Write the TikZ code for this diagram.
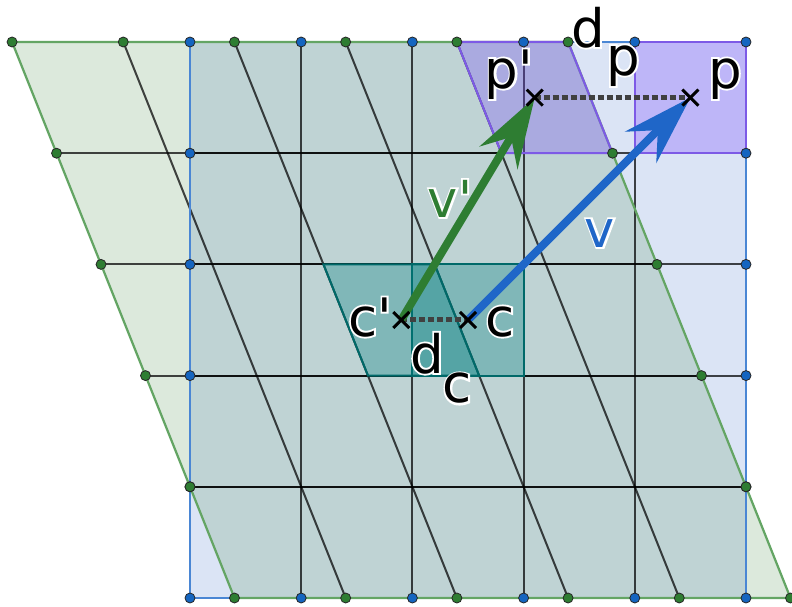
\documentclass[tikz,border=0pt]{standalone}
\usepackage{fontspec}
\newfontfamily\lblfont{DejaVu Sans}
\newfontfamily\halofont{DejaVu Sans}[FakeBold=7]
\usetikzlibrary{arrows.meta,calc}
\definecolor{sqfillc}{RGB}{20,80,190}
\definecolor{grfillc}{RGB}{80,145,80}
\definecolor{sqedge}{RGB}{74,134,212}
\definecolor{gredge}{RGB}{100,165,100}
\definecolor{tealc}{RGB}{0,128,128}
\definecolor{tealedge}{RGB}{0,105,105}
\definecolor{purpc}{RGB}{124,77,255}
\definecolor{purpedge}{RGB}{125,90,230}
\definecolor{vblue}{RGB}{31,102,200}
\definecolor{vgreen}{RGB}{46,125,50}
\definecolor{dotblue}{RGB}{21,101,192}
\definecolor{dotgreen}{RGB}{46,125,50}
\definecolor{dashc}{RGB}{64,64,64}
\newcommand\sq{\XeTeXglyph\XeTeXcharglyph"27\relax}
% #1 name, #2 position, #3 colour, #4 size (bp), #5 text
\newcommand\halolabel[5]{%
  \node[lbl, text=white, font={\halofont\fontsize{#4bp}{#4bp}\selectfont}]
      (#1h) at (#2) {#5};
  \node[lbl, text=#3, font={\lblfont\fontsize{#4bp}{#4bp}\selectfont}] (#1) at (#2) {#5};}
\begin{document}
\begin{tikzpicture}[x=111.2bp,y=111.2bp,
  sqfill/.style={fill=sqfillc, fill opacity=0.15},
  grfill/.style={fill=grfillc, fill opacity=0.2},
  gridline/.style={draw=black, draw opacity=0.72, line width=2bp},
  sqborder/.style={draw=sqedge, line width=2.2bp},
  grborder/.style={draw=gredge, line width=2.2bp},
  tealcell/.style={fill=tealc, fill opacity=0.33, draw=tealedge, line width=2bp},
  purpcell/.style={fill=purpc, fill opacity=0.3, draw=purpedge, line width=2bp},
  dotline/.style={draw=dashc, line width=5bp, dash pattern=on 6bp off 3bp},
  vec/.style={line width=8bp, -{Stealth[length=70bp, width=44bp, inset=24bp]}},
  crossline/.style={draw=black, line width=3bp},
  bdot/.style={fill=dotblue, draw=black!85, line width=0.8bp},
  gdot/.style={fill=dotgreen, draw=black!85, line width=0.8bp},
  lbl/.style={anchor=base, inner sep=0pt, outer sep=0pt}]
\useasboundingbox (-1.7086,-0.0809) rectangle (5.4137,5.3777);
\fill[white] (-1.7086,-0.0809) rectangle (5.4137,5.3777);

% fills
\fill[sqfill] (0,0) rectangle (5,5);
\fill[grfill] (0.4,0) -- (5.4,0) -- (3.4,5) -- (-1.6,5) -- cycle;

% interior grid lines
\foreach \i in {1,...,4}{
  \draw[gridline] (\i,0) -- (\i,5);
  \draw[gridline] (0,\i) -- (5,\i);
  \draw[gridline] ({\i+0.4},0) -- ({\i-1.6},5);
  \draw[gridline] ({0.4-0.4*\i},\i) -- ({5.4-0.4*\i},\i);
}

% borders
\draw[sqborder] (0,0) rectangle (5,5);
\draw[grborder] (0.4,0) -- (5.4,0) -- (3.4,5) -- (-1.6,5) -- cycle;

% highlighted cells
\filldraw[tealcell] (2,2) rectangle (3,3);
\filldraw[tealcell] (1.6,2) -- (2.6,2) -- (2.2,3) -- (1.2,3) -- cycle;
\filldraw[purpcell] (4,4) rectangle (5,5);
\filldraw[purpcell] (2.8,4) -- (3.8,4) -- (3.4,5) -- (2.4,5) -- cycle;

% points
\coordinate (p) at (4.5,4.5);
\coordinate (pp) at (3.1,4.5);
\coordinate (c) at (2.5,2.5);
\coordinate (cc) at (1.9,2.5);

% distances
\draw[dotline] (pp) -- (p);
\draw[dotline] (cc) -- (c);

% vectors
\draw[vec, vblue] (c) -- (p);
\draw[vec, vgreen] (cc) -- (pp);

% crosses
\foreach \pt in {p,pp,c,cc}{
  \draw[crossline] ([shift={(-8bp,-8bp)}]\pt) -- ([shift={(8bp,8bp)}]\pt);
  \draw[crossline] ([shift={(-8bp,8bp)}]\pt) -- ([shift={(8bp,-8bp)}]\pt);
}

% lattice dots
\foreach \i in {0,...,5}{
  \filldraw[bdot] (\i,0) circle (5bp);
  \filldraw[bdot] (\i,5) circle (5bp);
}
\foreach \j in {1,...,4}{
  \filldraw[bdot] (0,\j) circle (5bp);
  \filldraw[bdot] (5,\j) circle (5bp);
}
\foreach \i in {0,...,5}{
  \filldraw[gdot] ({\i+0.4},0) circle (5bp);
  \filldraw[gdot] ({\i-1.6},5) circle (5bp);
}
\foreach \j in {1,...,4}{
  \filldraw[gdot] ({0.4-0.4*\j},\j) circle (5bp);
  \filldraw[gdot] ({5.4-0.4*\j},\j) circle (5bp);
}

% labels
\halolabel{lpp}{2.869,4.586}{black}{53}{p\sq}
\halolabel{lp}{4.811,4.586}{black}{53}{p}
\halolabel{ldp}{3.579,4.955}{black}{53}{d}
\halolabel{ldpsub}{3.894,4.703}{black}{53}{p}
\halolabel{lcc}{1.619,2.356}{black}{53}{c\sq}
\halolabel{lc}{2.788,2.356}{black}{53}{c}
\halolabel{ldc}{2.131,2.023}{black}{53}{d}
\halolabel{ldcsub}{2.401,1.754}{black}{53}{c}
\halolabel{lvv}{2.338,3.426}{vgreen}{51}{v\sq}
\halolabel{lv}{3.687,3.156}{vblue}{51}{v}
\end{tikzpicture}
\end{document}
